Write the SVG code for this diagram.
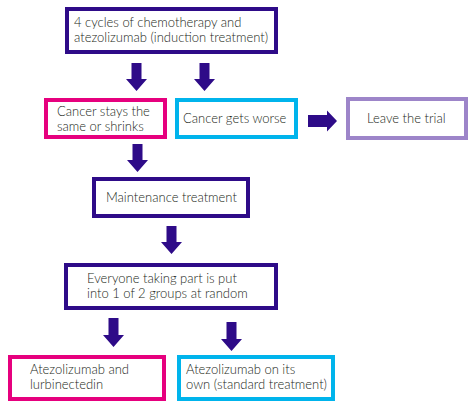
<svg xmlns="http://www.w3.org/2000/svg" width="475" height="409" viewBox="0 0 475 409">
<defs>
<style>
.box{fill:#fff;stroke-width:4}
.dp{stroke:#2e0b88}
.pk{stroke:#e6007e}
.cy{stroke:#00b4ec}
.lp{stroke:#9d85c9}
text{font-family:Lato,"Liberation Sans",sans-serif;font-size:13px;font-weight:300;fill:#231f20}
.arr{fill:#2e0b88}
</style>
</defs>
<rect width="475" height="409" fill="#fff"/>
<g id="connectors">
<polygon class="arr" points="131.5,63 141.5,63 141.5,79 147,79 136.5,91 126,79 131.5,79"/>
<polygon class="arr" points="199.5,63 209.5,63 209.5,79 215,79 204.5,91 194,79 199.5,79"/>
<polygon class="arr" points="308,115 327,115 327,110.5 337,121 327,131.5 327,127 308,127"/>
<polygon class="arr" points="132.5,144 142.5,144 142.5,160 148,160 137.5,172 127,160 132.5,160"/>
<polygon class="arr" points="166.5,226 176.5,226 176.5,242 182,242 171.5,254 161,242 166.5,242"/>
<polygon class="arr" points="108.5,318 118.5,318 118.5,335 124,335 113.5,347 103,335 108.5,335"/>
<polygon class="arr" points="226.5,322 236.5,322 236.5,339 242,339 231.5,351 221,339 226.5,339"/>
</g>
<g id="induction">
<rect class="box dp" x="67" y="9" width="209" height="43"/>
<text x="74" y="27">4 cycles of chemotherapy and</text>
<text x="74" y="42">atezolizumab (induction treatment)</text>
</g>
<g id="same">
<rect class="box pk" x="46" y="100" width="119" height="37"/>
<text x="57" y="116">Cancer stays the</text>
<text x="57" y="131">same or shrinks</text>
</g>
<g id="worse">
<rect class="box cy" x="177" y="100" width="119" height="37"/>
<text x="183" y="123">Cancer gets worse</text>
</g>
<g id="leave">
<rect class="box lp" x="348" y="99" width="118" height="39"/>
<text x="367" y="123">Leave the trial</text>
</g>
<g id="maintenance">
<rect class="box dp" x="94" y="179" width="154" height="37"/>
<text x="106" y="202">Maintenance treatment</text>
</g>
<g id="random">
<rect class="box dp" x="66" y="265" width="210" height="43"/>
<text x="87" y="283">Everyone taking part is put</text>
<text x="87" y="298">into 1 of 2 groups at random</text>
</g>
<g id="lurbi">
<rect class="box pk" x="10" y="357" width="154" height="42"/>
<text x="30" y="374">Atezolizumab and</text>
<text x="30" y="389">lurbinectedin</text>
</g>
<g id="alone">
<rect class="box cy" x="179" y="357" width="154" height="42"/>
<text x="186" y="374">Atezolizumab on its</text>
<text x="186" y="389">own (standard treatment)</text>
</g>
</svg>
